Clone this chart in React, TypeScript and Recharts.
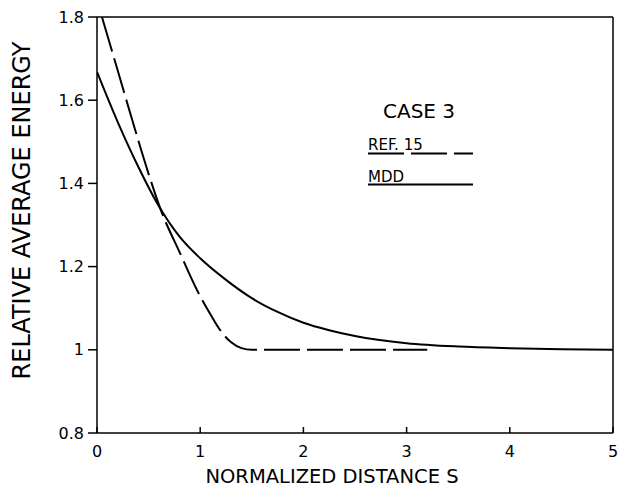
import { LineChart, Line, XAxis, YAxis, ReferenceLine } from 'recharts';

// MDD curve (solid)
const mddS = [0, 0.2, 0.4, 0.6, 0.8, 1.0, 1.25, 1.5, 1.75, 2.0, 2.25, 2.5, 3.0, 3.5, 4.0, 4.5, 5.0];
const mddE = [1.668, 1.548, 1.44, 1.345, 1.272, 1.22, 1.168, 1.124, 1.091, 1.065, 1.047, 1.033, 1.016, 1.008, 1.004, 1.0015, 1.0];

// REF. 15 curve (dashed)
const refS = [0.048, 0.2, 0.35, 0.5, 0.62, 0.8, 0.97, 1.1, 1.2, 1.3, 1.4, 1.5, 2.0, 2.5, 3.2];
const refE = [1.8, 1.672, 1.545, 1.423, 1.335, 1.235, 1.143, 1.085, 1.045, 1.018, 1.004, 1.0, 1.0, 1.0, 1.0];

const xTicks = [0, 1, 2, 3, 4, 5];
const yTicks = [0.8, 1.0, 1.2, 1.4, 1.6, 1.8];

const mddData = mddS.map((s, i) => ({ s, e: mddE[i] }));
const refData = refS.map((s, i) => ({ s, e: refE[i] }));

const FONT = '"DejaVu Sans", sans-serif';

const XTick = (props: any) => {
    const { x, y, payload } = props;
    return (
        <g>
            <line x1={x} y1={y} x2={x} y2={y - 6} stroke="#000" strokeWidth={1.5} />
            <text x={x} y={y + 24} textAnchor="middle" fontSize={16} fontFamily={FONT} fill="#000">
                {payload.value}
            </text>
        </g>
    );
};

export default function App() {
    return (
        <div style={{ position: 'absolute', left: 0, top: 0, width: 618, height: 487, background: '#fff' }}>
            <LineChart width={618} height={487} data={mddData} margin={{ top: 17, right: 5, left: 0, bottom: 0 }}>
                <XAxis
                    dataKey="s"
                    type="number"
                    domain={[0, 5]}
                    ticks={xTicks}
                    height={54}
                    tickLine={false}
                    tickSize={0}
                    tickMargin={0}
                    tick={<XTick />}
                    axisLine={{ stroke: '#000', strokeWidth: 1.5 }}
                    interval={0}
                    allowDataOverflow
                    label={{
                        value: 'NORMALIZED DISTANCE S',
                        position: 'insideBottom',
                        offset: 4,
                        dx: -23,
                        fontSize: 19.5,
                        fontFamily: FONT,
                        fill: '#000',
                    }}
                />
                <YAxis
                    type="number"
                    domain={[0.8, 1.8]}
                    ticks={yTicks}
                    width={97}
                    interval={0}
                    allowDataOverflow
                    tickSize={9}
                    tickMargin={4}
                    tickFormatter={(v: number) => (v === 1 ? '1' : v.toFixed(1))}
                    tick={{ fill: '#000', fontSize: 16, fontFamily: FONT }}
                    tickLine={{ stroke: '#000', strokeWidth: 1.5 }}
                    axisLine={{ stroke: '#000', strokeWidth: 1.5 }}
                />
                <ReferenceLine y={1.8} stroke="#000" strokeWidth={1.5} />
                <ReferenceLine x={5} stroke="#000" strokeWidth={1.5} />
                <Line
                    data={refData}
                    dataKey="e"
                    type="monotone"
                    stroke="#000"
                    strokeWidth={2}
                    strokeDasharray="36 7"
                    dot={false}
                    isAnimationActive={false}
                />
                <Line
                    data={mddData}
                    dataKey="e"
                    type="monotone"
                    stroke="#000"
                    strokeWidth={2}
                    dot={false}
                    isAnimationActive={false}
                />
            </LineChart>
            <svg
                width={618}
                height={487}
                style={{ position: 'absolute', left: 0, top: 0, pointerEvents: 'none' }}
                fontFamily={FONT}
            >
                <text transform="translate(30,210.5) rotate(-90)" textAnchor="middle" fontSize={24} fill="#000">
                    RELATIVE AVERAGE ENERGY
                </text>
                <text x={383} y={118} fontSize={20} fill="#000">CASE 3</text>
                <text x={368} y={150} fontSize={15} fill="#000">REF. 15</text>
                <line x1={368} y1={153.5} x2={473} y2={153.5} stroke="#000" strokeWidth={2} strokeDasharray="36 7" />
                <text x={368} y={182} fontSize={15} fill="#000">MDD</text>
                <line x1={368} y1={184.5} x2={473} y2={184.5} stroke="#000" strokeWidth={2} />
            </svg>
        </div>
    );
}
